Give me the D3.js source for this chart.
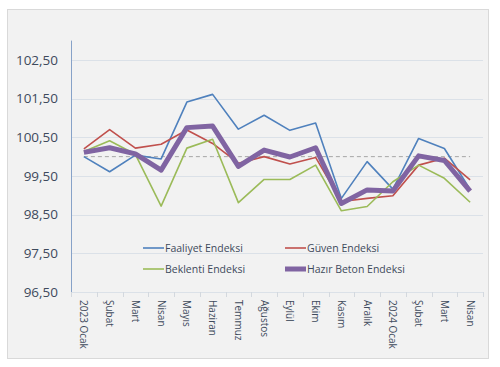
<!DOCTYPE html>
<html>
  <head>
    <meta charset="utf-8">
    <title>Hazır Beton Endeksleri</title>
    <style>
    body { margin: 0; background: #fff; }
    text { font-family: "Open Sans", sans-serif; }
    </style>
  </head>
  <body>
    <script src="https://d3js.org/d3.v7.min.js"></script>
    <script>
      // Kategoriler (aylar)
      var aylar = ["2023 Ocak", "Şubat", "Mart", "Nisan", "Mayıs", "Haziran", "Temmuz", "Ağustos",
                   "Eylül", "Ekim", "Kasım", "Aralık", "2024 Ocak", "Şubat", "Mart", "Nisan"];

      // Seriler
      var faaliyet = [100.00, 99.61, 100.04, 99.94, 101.41, 101.61, 100.71, 101.07,
                      100.68, 100.87, 98.92, 99.87, 99.16, 100.47, 100.21, 99.15];
      var guven    = [100.20, 100.70, 100.22, 100.32, 100.69, 100.34, 99.83, 100.00,
                      99.81, 99.98, 98.84, 98.92, 98.99, 99.78, 99.96, 99.40];
      var beklenti = [100.13, 100.41, 100.06, 98.72, 100.22, 100.45, 98.81, 99.41,
                      99.41, 99.78, 98.60, 98.71, 99.35, 99.78, 99.44, 98.82];
      var hazir    = [100.11, 100.23, 100.07, 99.65, 100.75, 100.79, 99.75, 100.17,
                      99.99, 100.23, 98.79, 99.14, 99.11, 100.02, 99.90, 99.11];
      // Referans çizgisi (100)
      var referans = [100, 100, 100, 100, 100, 100, 100, 100, 100, 100, 100, 100, 100, 100, 100, 100];

      // Eksen değerleri
      var yTicks = [96.5, 97.5, 98.5, 99.5, 100.5, 101.5, 102.5];
      var yAralik = [96.5, 103];

      var width = 500, height = 367;
      var svg = d3.select("body").append("svg")
        .attr("width", width)
        .attr("height", height);

      // Arka plan paneli
      svg.append("rect")
        .attr("x", 7.5).attr("y", 9.5)
        .attr("width", 481).attr("height", 349)
        .attr("fill", "#f2f2f2")
        .attr("stroke", "#d9d9d9");

      var x = d3.scaleBand()
        .domain(d3.range(aylar.length))
        .range([71, 483]);
      var y = d3.scaleLinear()
        .domain(yAralik)
        .range([292, 40.6]);
      var cx = function(i) { return x(i) + x.bandwidth() / 2; };

      // Yatay ızgara çizgileri
      svg.append("g").selectAll("line")
        .data(yTicks)
        .enter().append("line")
        .attr("x1", 71).attr("x2", 483)
        .attr("y1", function(d) { return Math.round(y(d)) + 0.5; })
        .attr("y2", function(d) { return Math.round(y(d)) + 0.5; })
        .attr("stroke", "#dbe1e8");

      // Y ekseni etiketleri
      svg.append("g").selectAll("text")
        .data(yTicks)
        .enter().append("text")
        .attr("x", 58)
        .attr("y", function(d) { return y(d); })
        .attr("dy", "0.35em")
        .attr("text-anchor", "end")
        .attr("font-size", "13.5px")
        .attr("fill", "#3e4a5c")
        .text(function(d) { return d3.format(".2f")(d).replace(".", ","); });

      // Sol eksen çizgisi
      svg.append("line")
        .attr("x1", 71.5).attr("x2", 71.5)
        .attr("y1", y(yAralik[1])).attr("y2", y(yAralik[0]))
        .attr("stroke", "#87a2c8");

      // X ekseni tik işaretleri
      svg.append("g").selectAll("line")
        .data(d3.range(aylar.length + 1))
        .enter().append("line")
        .attr("x1", function(i) { return Math.round(71 + i * x.step()) + 0.5; })
        .attr("x2", function(i) { return Math.round(71 + i * x.step()) + 0.5; })
        .attr("y1", 292).attr("y2", 297)
        .attr("stroke", "#d3d8de");

      // X ekseni etiketleri (dikey)
      svg.append("g").selectAll("text")
        .data(aylar)
        .enter().append("text")
        .attr("transform", function(d, i) { return "translate(" + cx(i) + ",300) rotate(90)"; })
        .attr("dy", "0.35em")
        .attr("font-size", "10px")
        .attr("fill", "#3e4a5c")
        .text(function(d) { return d; });

      // Referans çizgisi
      var line = d3.line()
        .x(function(d, i) { return cx(i); })
        .y(function(d) { return y(d); });

      svg.append("path")
        .datum(referans)
        .attr("d", line)
        .attr("fill", "none")
        .attr("stroke", "#a6a6a6")
        .attr("stroke-dasharray", "4,3");

      var seriler = [
        { ad: "Faaliyet Endeksi", veri: faaliyet, renk: "#4f81bd", kalinlik: 1.6, lx: 143, ly: 248 },
        { ad: "Güven Endeksi", veri: guven, renk: "#c0504d", kalinlik: 1.6, lx: 285, ly: 248 },
        { ad: "Beklenti Endeksi", veri: beklenti, renk: "#9bbb59", kalinlik: 1.6, lx: 143, ly: 269 },
        { ad: "Hazır Beton Endeksi", veri: hazir, renk: "#8064a2", kalinlik: 5, lx: 285, ly: 269 }
      ];

      seriler.forEach(function(s) {
        svg.append("path")
          .datum(s.veri)
          .attr("d", line)
          .attr("fill", "none")
          .attr("stroke", s.renk)
          .attr("stroke-width", s.kalinlik)
          .attr("stroke-linejoin", "round");
      });

      // Lejant
      seriler.forEach(function(s) {
        svg.append("line")
          .attr("x1", s.lx).attr("x2", s.lx + 21)
          .attr("y1", s.ly).attr("y2", s.ly)
          .attr("stroke", s.renk)
          .attr("stroke-width", s.kalinlik);
        svg.append("text")
          .attr("x", s.lx + 22)
          .attr("y", s.ly)
          .attr("dy", "0.35em")
          .attr("font-size", "10.5px")
          .attr("fill", "#3e4a5c")
          .text(s.ad);
      });
    </script>
  </body>
</html>
